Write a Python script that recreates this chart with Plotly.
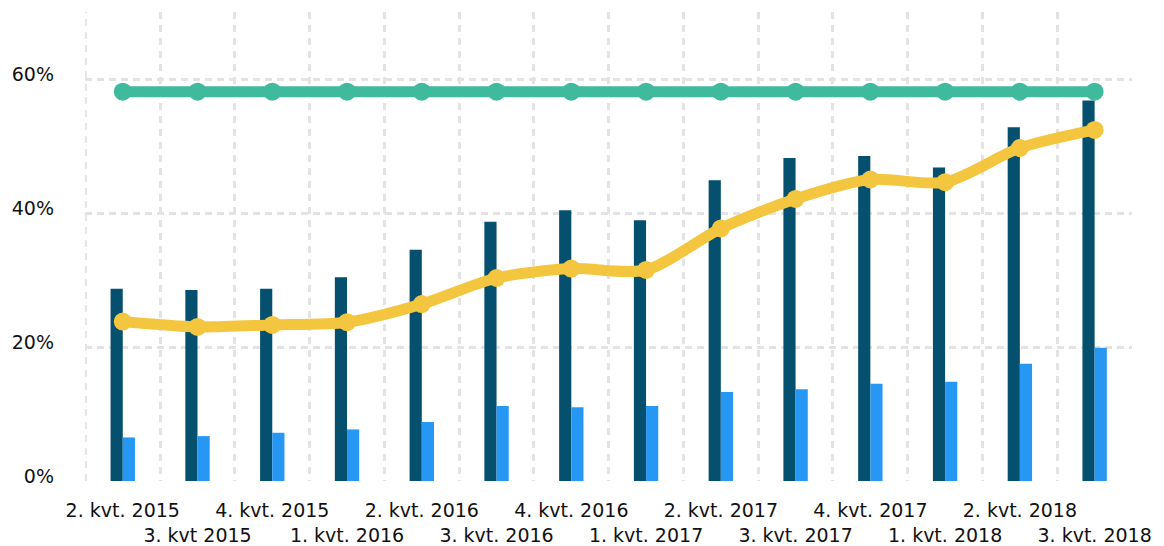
import plotly.graph_objects as go

# Quarter labels (staggered on two rows under the axis)
quarters = [
    "2. kvt. 2015", "3. kvt 2015", "4. kvt. 2015", "1. kvt. 2016",
    "2. kvt. 2016", "3. kvt. 2016", "4. kvt. 2016", "1. kvt. 2017",
    "2. kvt. 2017", "3. kvt. 2017", "4. kvt. 2017", "1. kvt. 2018",
    "2. kvt. 2018", "3. kvt. 2018",
]

# Series values in percent
dark_bars = [28.7, 28.5, 28.7, 30.4, 34.5, 38.7, 40.4, 38.9, 44.9, 48.2, 48.5, 46.8, 52.8, 56.8]
light_bars = [6.5, 6.7, 7.2, 7.7, 8.8, 11.2, 11.0, 11.2, 13.3, 13.7, 14.5, 14.8, 17.5, 19.9]
yellow_line = [23.8, 23.0, 23.3, 23.7, 26.4, 30.3, 31.7, 31.5, 37.7, 42.1, 45.0, 44.6, 49.7, 52.4]
green_line = [58.1] * 14

y_ticks = [0, 20, 40, 60]
y_tick_labels = [f"{v}%" for v in y_ticks]

x = list(range(len(quarters)))
tick_text = [q if i % 2 == 0 else "<br>" + q for i, q in enumerate(quarters)]
boundaries = [i - 0.5 for i in x]

DARK = "#04506e"
LIGHT = "#2698f4"
YELLOW = "#f4c63f"
GREEN = "#3fba9c"
GRID = "#e3e3e3"

fig = go.Figure()
fig.add_trace(go.Bar(x=x, y=dark_bars, marker=dict(color=DARK, line=dict(width=0))))
fig.add_trace(go.Bar(x=x, y=light_bars, marker=dict(color=LIGHT, line=dict(width=0))))
fig.add_trace(go.Scatter(
    x=x, y=yellow_line, mode="lines+markers",
    line=dict(color=YELLOW, width=11, shape="spline", smoothing=0.8),
    marker=dict(color=YELLOW, size=18),
))
fig.add_trace(go.Scatter(
    x=x, y=green_line, mode="lines+markers",
    line=dict(color=GREEN, width=11),
    marker=dict(color=GREEN, size=18),
))

# left-edge category boundary line (the axis clips the gridline at its own edge)
fig.add_shape(
    type="line", xref="x", yref="paper", x0=boundaries[0], x1=boundaries[0],
    y0=0, y1=1, layer="below",
    line=dict(color=GRID, width=3, dash="7px,6px"),
)

fig.update_layout(
    width=1164, height=546,
    margin=dict(l=85, r=32, t=12, b=65),
    paper_bgcolor="white", plot_bgcolor="white",
    showlegend=False,
    barmode="group", bargap=0.674, bargroupgap=0,
    font=dict(family="DejaVu Sans", size=19, color="#111111"),
)
fig.update_xaxes(
    range=[-0.505, len(quarters) - 0.5],
    tickmode="array", tickvals=x, ticktext=tick_text, tickangle=0,
    automargin=False,
    showgrid=False, zeroline=False, showline=False, ticks="",
    ticklabelstandoff=16,
    minor=dict(tickmode="array", tickvals=boundaries, showgrid=True,
               gridcolor=GRID, gridwidth=3, griddash="7px,6px", ticks=""),
)
fig.update_yaxes(
    range=[0, 70], automargin=False,
    tickmode="array", tickvals=y_ticks, ticktext=y_tick_labels,
    showgrid=True, gridcolor=GRID, gridwidth=3, griddash="7px,5px",
    zeroline=False, showline=False, ticks="",
    ticklabelstandoff=30, ticklabelshift=-5,
)

fig.write_html("out.html")
